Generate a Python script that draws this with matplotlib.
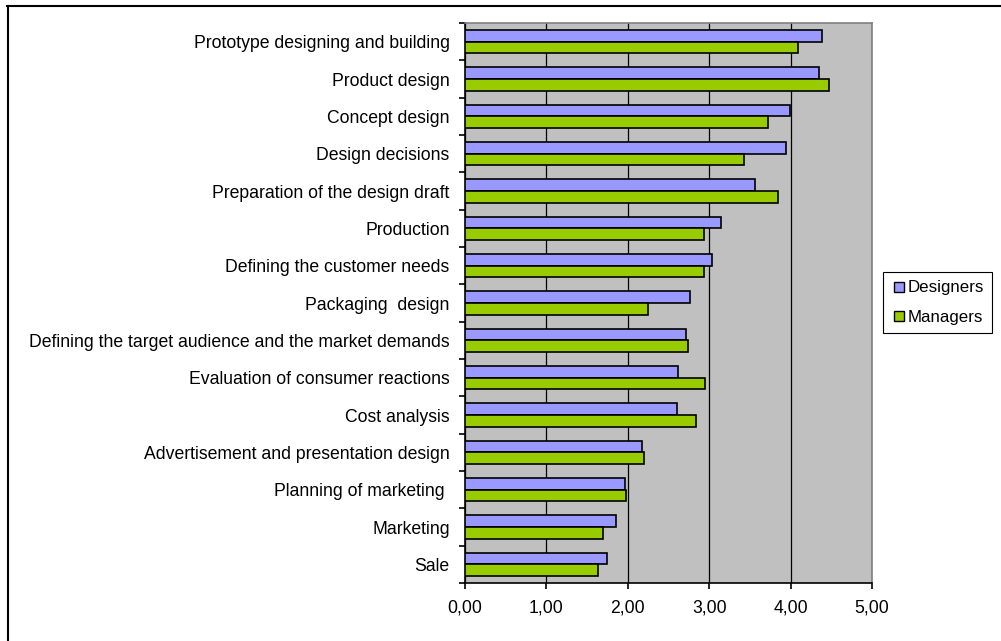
import numpy as np
import matplotlib
matplotlib.use('Agg')
import matplotlib.pyplot as plt
from matplotlib.lines import Line2D
from matplotlib.ticker import FixedLocator, FuncFormatter

plt.rcParams['font.family'] = ['Liberation Sans', 'DejaVu Sans']

# 활동 항목 (위에서 아래 순서)
activities = [
    'Prototype designing and building',
    'Product design',
    'Concept design',
    'Design decisions',
    'Preparation of the design draft',
    'Production',
    'Defining the customer needs',
    'Packaging  design',
    'Defining the target audience and the market demands',
    'Evaluation of consumer reactions',
    'Cost analysis',
    'Advertisement and presentation design',
    'Planning of marketing ',
    'Marketing',
    'Sale',
]
designers = [4.39, 4.35, 3.99, 3.94, 3.56, 3.15, 3.03, 2.77, 2.72, 2.62, 2.60, 2.17, 1.97, 1.85, 1.75]
managers  = [4.09, 4.47, 3.72, 3.43, 3.84, 2.93, 2.93, 2.25, 2.74, 2.95, 2.84, 2.20, 1.98, 1.69, 1.64]

c_des = '#9999FF'
c_man = '#99CC00'
fs = 12.7

fig = plt.figure(figsize=(10.01, 6.41), dpi=100)
ax = fig.add_axes([465 / 1001, 1 - 583 / 641, 407 / 1001, 560 / 641])
ax.set_facecolor('#C0C0C0')

y = np.arange(len(activities))
h = 0.31
ax.barh(y - h / 2, designers, height=h, color=c_des, edgecolor='black', linewidth=1.2, zorder=3)
ax.barh(y + h / 2, managers, height=h, color=c_man, edgecolor='black', linewidth=1.2, zorder=3)

ax.set_xlim(0, 5)
ax.set_ylim(len(activities) - 0.5, -0.5)

# 격자선
ax.set_xticks(np.arange(0, 5.01, 1))
ax.xaxis.set_major_formatter(FuncFormatter(lambda v, p: f'{v:.2f}'.replace('.', ',')))
ax.grid(axis='x', color='black', linewidth=0.9, zorder=1)

ax.set_yticks(y)
ax.set_yticklabels(activities)
ax.yaxis.set_minor_locator(FixedLocator(np.arange(-0.5, len(activities), 1)))
ax.tick_params(axis='y', which='major', length=0, pad=11, labelsize=fs)
ax.tick_params(axis='y', which='minor', length=4, width=1.2, direction='out')
ax.tick_params(axis='x', which='major', length=4, width=1.2, direction='out', pad=8, labelsize=fs)

for side in ['top', 'right']:
    ax.spines[side].set_color('#808080')
    ax.spines[side].set_linewidth(1.2)
for side in ['left', 'bottom']:
    ax.spines[side].set_color('black')
    ax.spines[side].set_linewidth(1.2)

# 범례
handles = [
    Line2D([], [], marker='s', linestyle='none', markersize=7, markerfacecolor=c_des, markeredgecolor='black'),
    Line2D([], [], marker='s', linestyle='none', markersize=7, markerfacecolor=c_man, markeredgecolor='black'),
]
leg = fig.legend(handles, ['Designers', 'Managers'], loc='upper left',
                 bbox_to_anchor=(883 / 1001, 1 - 272 / 641), fontsize=12.2,
                 frameon=True, fancybox=False, framealpha=1, edgecolor='black',
                 handletextpad=0.05, handlelength=0.9, labelspacing=0.85, borderpad=0.5,
                 borderaxespad=0)
leg.get_frame().set_linewidth(0.8)

# 바깥 테두리
fig.add_artist(Line2D([7 / 1001, 1], [1 - 6 / 641, 1 - 6 / 641], color='black', linewidth=1.5))
fig.add_artist(Line2D([7.5 / 1001, 7.5 / 1001], [0, 1 - 6 / 641], color='black', linewidth=1.5))

fig.savefig('out.png', dpi=100, facecolor='white')
